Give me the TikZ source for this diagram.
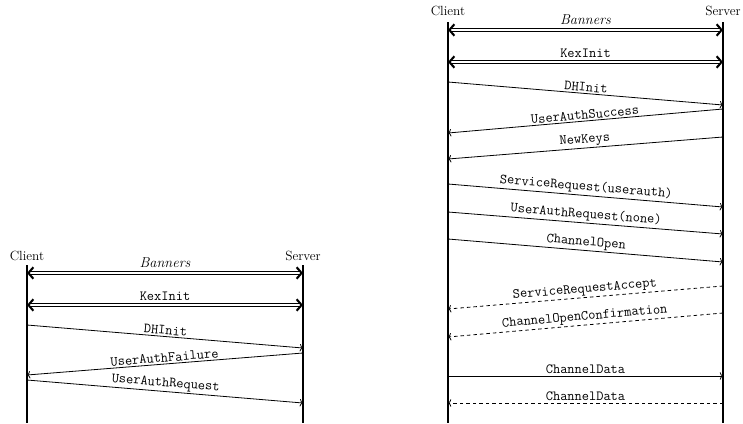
\documentclass[tikz,border=0pt]{standalone}
\usepackage{fontspec}
\usetikzlibrary{arrows.meta}
\tikzset{
  actor/.style={anchor=base, inner sep=0pt, font=\fontsize{13.3}{15}\selectfont},
  lifeline/.style={line width=1.9pt},
  dblmsg/.style={double, double distance=1.6pt, line width=0.8pt,
     {Straight Barb[length=5pt,width=11.5pt,line width=2.1pt]}-{Straight Barb[length=5pt,width=11.5pt,line width=2.1pt]}},
  msg/.style={line width=0.8pt, -{To[length=3.2pt,width=7.5pt]}},
  dmsg/.style={msg, dash pattern=on 3.5pt off 3pt},
  lbl/.style={midway, sloped, above, inner sep=1.5pt, font=\fontsize{14}{16}\selectfont\ttfamily},
  dlbl/.style={lbl, inner sep=4.5pt},
  ilbl/.style={midway, above, inner sep=4.5pt, font=\fontsize{14.3}{16}\selectfont\itshape},
}
\begin{document}
\begin{tikzpicture}[x=1pt,y=-1pt]
\useasboundingbox (0,0) rectangle (743,423);

% ---------- left diagram ----------
\node[actor] (lC) at (27,260) {Client};
\node[actor] (lS) at (303,260) {Server};
\coordinate (lCt) at (27,265);  \coordinate (lCb) at (27,423);
\coordinate (lSt) at (303,265); \coordinate (lSb) at (303,423);
\draw[lifeline] (lCt) -- (lCb);
\draw[lifeline] (lSt) -- (lSb);

\coordinate (la1) at (27,273);  \coordinate (lb1) at (303,273);
\coordinate (la2) at (27,305);  \coordinate (lb2) at (303,305);
\coordinate (la3) at (27,325);  \coordinate (lb3) at (303,348);
\coordinate (lb4) at (303,353); \coordinate (la4) at (27,375);
\coordinate (la5) at (27,380);  \coordinate (lb5) at (303,403);

\draw[dblmsg] (la1) -- node[ilbl] {Banners} (lb1);
\draw[dblmsg] (la2) -- node[dlbl] {KexInit} (lb2);
\draw[msg] (la3) -- node[lbl] {DHInit} (lb3);
\draw[msg] (lb4) -- node[lbl] {UserAuthFailure} (la4);
\draw[msg] (la5) -- node[lbl] {UserAuthRequest} (lb5);

% ---------- right diagram ----------
\node[actor] (rC) at (448,16) {Client};
\node[actor] (rS) at (723,16) {Server};
\coordinate (rCt) at (448,22);  \coordinate (rCb) at (448,423);
\coordinate (rSt) at (723,22);  \coordinate (rSb) at (723,423);
\draw[lifeline] (rCt) -- (rCb);
\draw[lifeline] (rSt) -- (rSb);

\coordinate (ra1) at (448,30);   \coordinate (rb1) at (723,30);
\coordinate (ra2) at (448,62);   \coordinate (rb2) at (723,62);
\coordinate (ra3) at (448,82);   \coordinate (rb3) at (723,105);
\coordinate (rb4) at (723,109);  \coordinate (ra4) at (448,133);
\coordinate (rb5) at (723,137);  \coordinate (ra5) at (448,159);
\coordinate (ra6) at (448,184);  \coordinate (rb6) at (723,207);
\coordinate (ra7) at (448,212);  \coordinate (rb7) at (723,234);
\coordinate (ra8) at (448,239);  \coordinate (rb8) at (723,262);
\coordinate (rb9) at (723,286);  \coordinate (ra9) at (448,309);
\coordinate (rb10) at (723,313); \coordinate (ra10) at (448,337);
\coordinate (ra11) at (448,376); \coordinate (rb11) at (723,376);
\coordinate (rb12) at (723,403); \coordinate (ra12) at (448,403);

\draw[dblmsg] (ra1) -- node[ilbl] {Banners} (rb1);
\draw[dblmsg] (ra2) -- node[dlbl] {KexInit} (rb2);
\draw[msg] (ra3) -- node[lbl] {DHInit} (rb3);
\draw[msg] (rb4) -- node[lbl] {UserAuthSuccess} (ra4);
\draw[msg] (rb5) -- node[lbl] {NewKeys} (ra5);
\draw[msg] (ra6) -- node[lbl] {ServiceRequest(userauth)} (rb6);
\draw[msg] (ra7) -- node[lbl] {UserAuthRequest(none)} (rb7);
\draw[msg] (ra8) -- node[lbl] {ChannelOpen} (rb8);
\draw[dmsg] (rb9) -- node[lbl] {ServiceRequestAccept} (ra9);
\draw[dmsg] (rb10) -- node[lbl] {ChannelOpenConfirmation} (ra10);
\draw[msg] (ra11) -- node[lbl] {ChannelData} (rb11);
\draw[dmsg] (rb12) -- node[lbl] {ChannelData} (ra12);
\end{tikzpicture}
\end{document}
